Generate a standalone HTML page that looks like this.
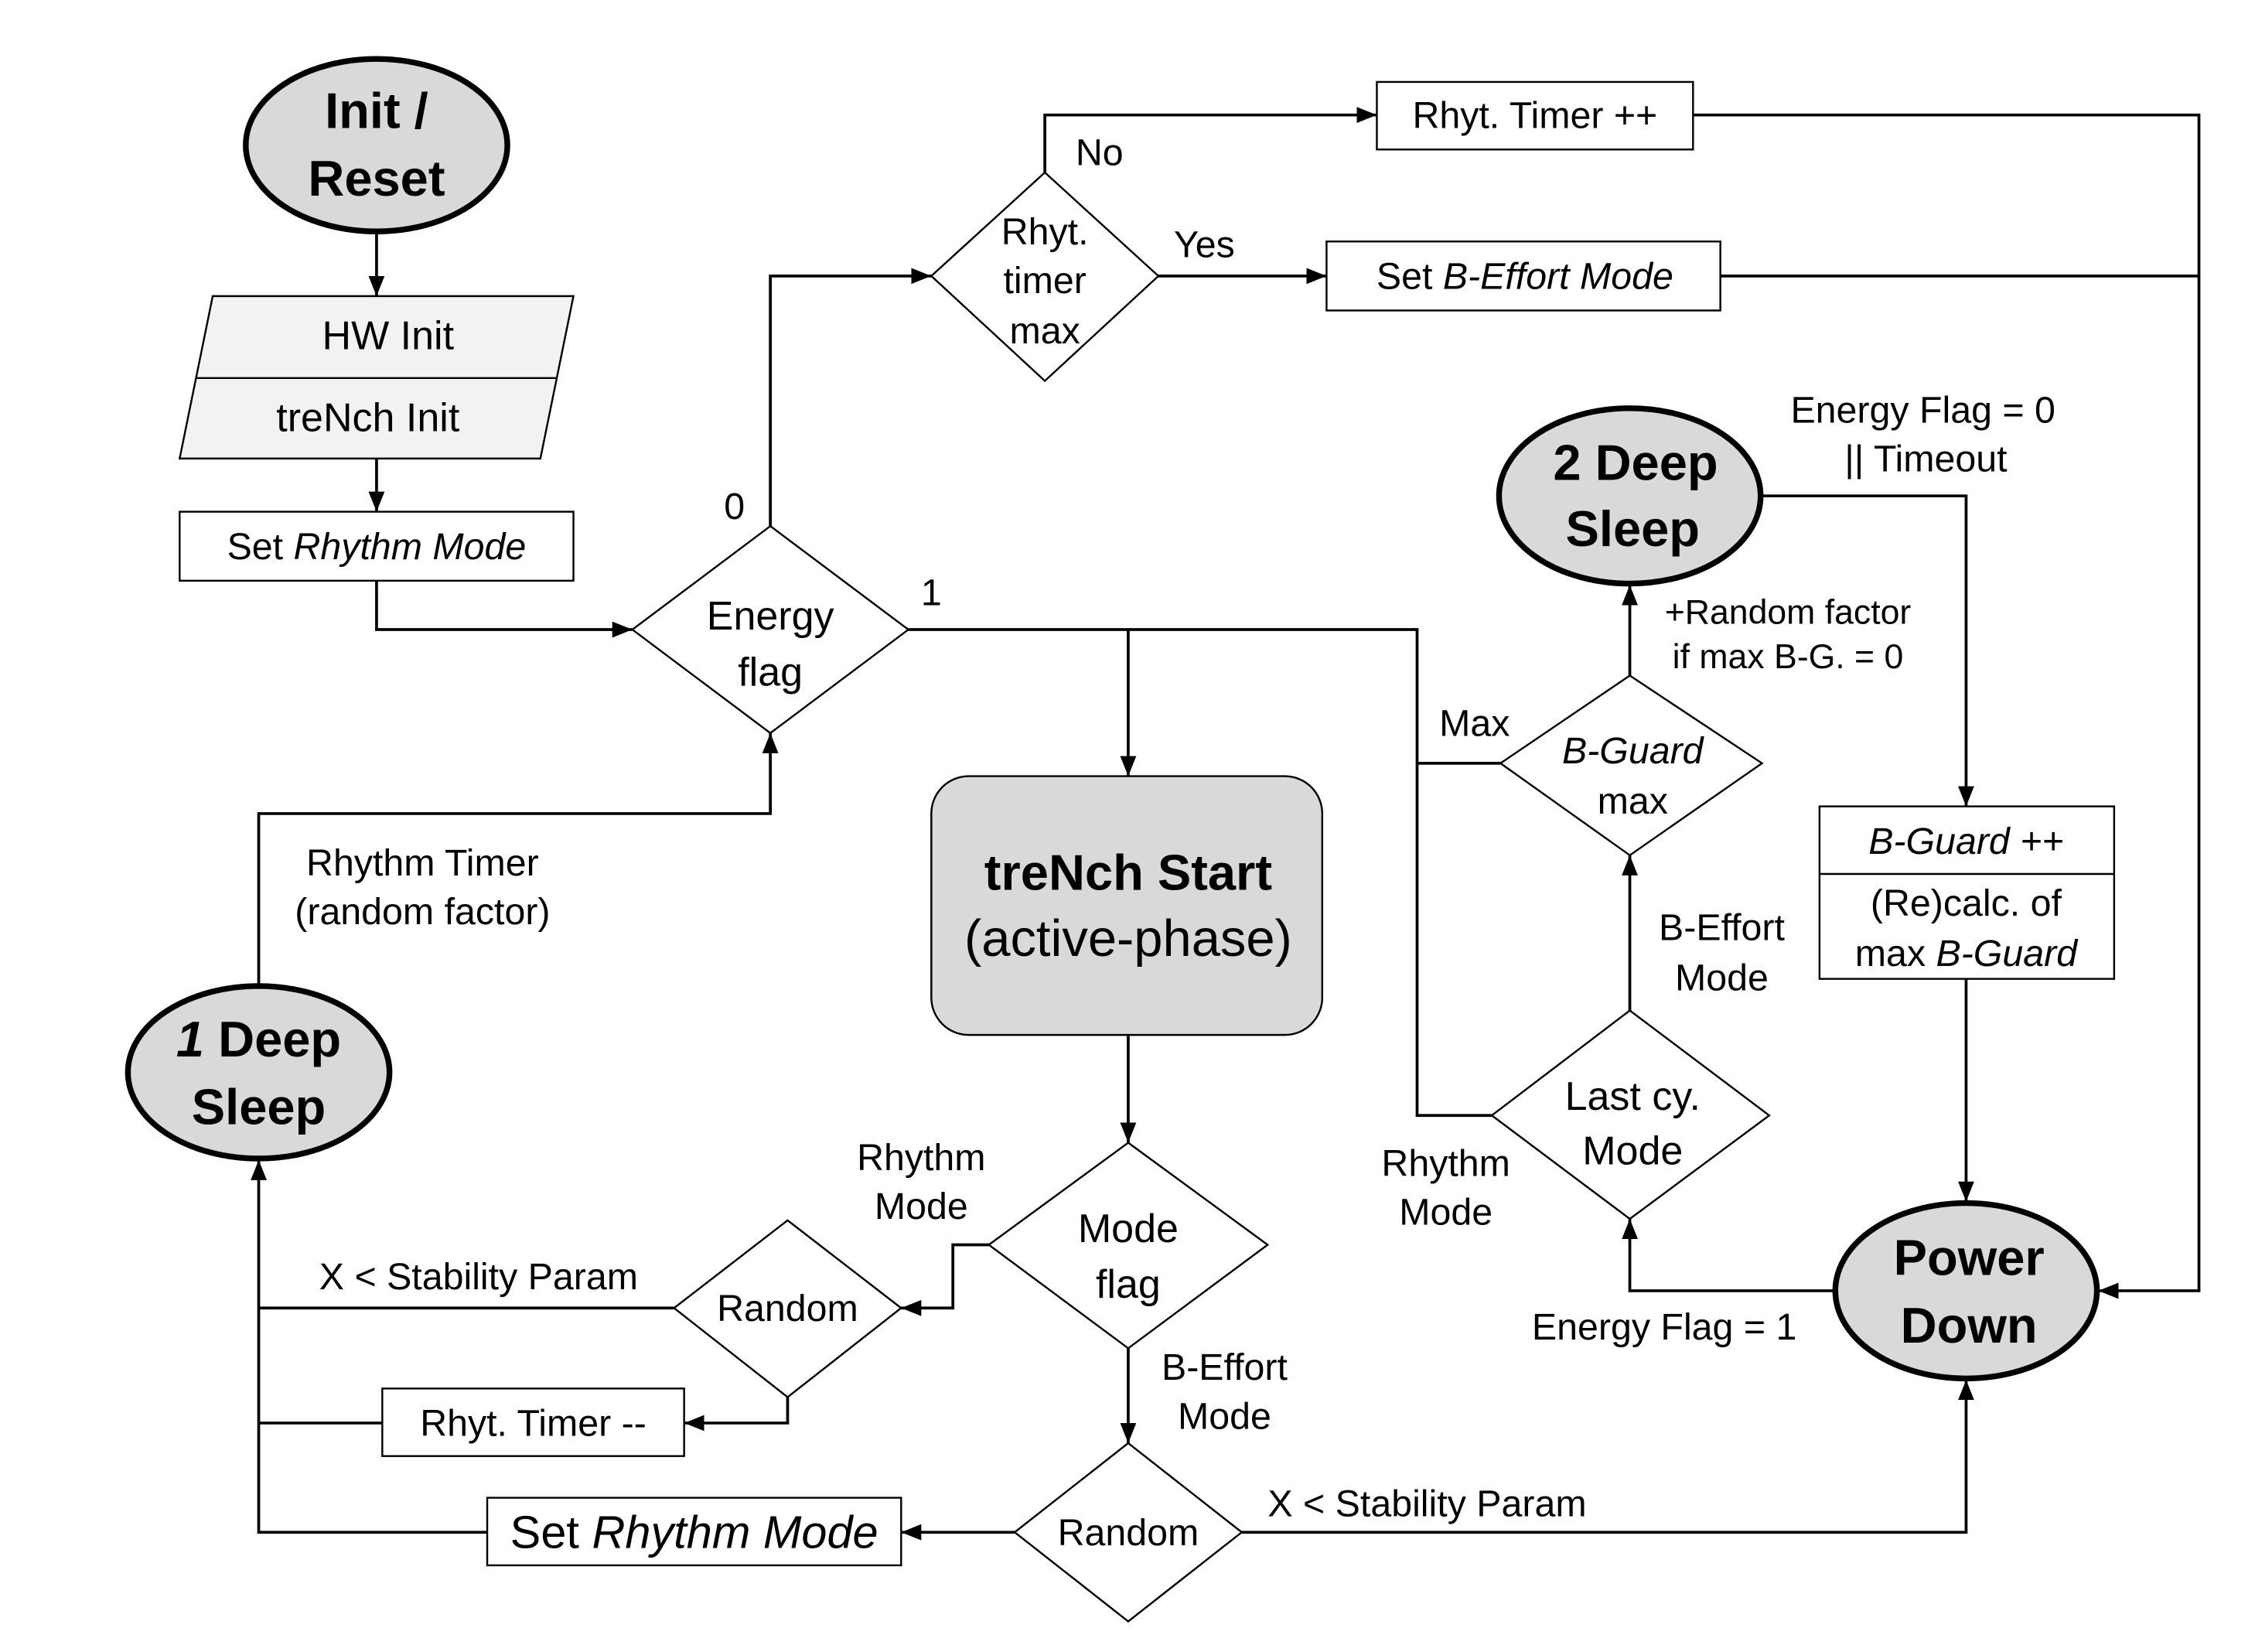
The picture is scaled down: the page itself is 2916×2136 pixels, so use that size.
<!DOCTYPE html>
<html><head><meta charset="utf-8"><style>html,body{margin:0;padding:0;background:#fff}svg{display:block}</style></head><body>
<svg xmlns="http://www.w3.org/2000/svg" width="2916" height="2136" viewBox="0 0 1569 1149.3" preserveAspectRatio="none" font-family="Liberation Sans, Arial, sans-serif">
<defs><marker id="b" viewBox="0 0 10 10" refX="10" refY="5" markerWidth="14" markerHeight="14" markerUnits="userSpaceOnUse" orient="auto"><path d="M0,1L10,5L0,9z" fill="#000"/></marker></defs>
<g fill="none" stroke="#000" stroke-width="2" marker-end="url(#b)">
<path d="M262,163V206"/><path d="M262,319V356"/><path d="M262,404V438H440"/>
<path d="M536,366V192H648"/><path d="M727,120V80H958"/><path d="M806,192H923"/>
<path d="M1178,80H1530V898H1460"/>
<path d="M785,438V540"/><path d="M785,720V795"/>
<path d="M688,866H663V910H627"/><path d="M548,972V990H476"/>
<path d="M785,938V1004"/><path d="M706,1066H627"/>
<path d="M339,1066H180V807"/><path d="M180,685V566H536V510"/>
<path d="M864,1066H1368V960"/><path d="M1276,898H1134V848"/>
<path d="M1134,703V595"/><path d="M1134,470V407"/>
<path d="M1226,345H1368V561"/><path d="M1368,681V836"/>
</g>
<g fill="none" stroke="#000" stroke-width="2">
<path d="M1197,192H1530"/><path d="M632,438H986V776H1038"/><path d="M1044,531H986"/>
<path d="M469,910H180"/><path d="M266,990H180"/>
</g>
<g stroke="#000" stroke-width="1.3">
<rect x="125" y="356" width="274" height="48" fill="#fff"/>
<path d="M148,206H399L376,319H125Z" fill="#f2f2f2"/><path d="M137,263H388"/>
<rect x="958" y="57" width="220" height="47" fill="#fff"/>
<rect x="923" y="168" width="274" height="48" fill="#fff"/>
<rect x="266" y="966" width="210" height="47" fill="#fff"/>
<rect x="339" y="1042" width="288" height="47" fill="#fff"/>
<rect x="1266" y="561" width="205" height="120" fill="#fff"/><path d="M1266,608H1471"/>
<rect x="648" y="540" width="272" height="180" rx="26" fill="#d9d9d9"/>
<path d="M536,366L632,438L536,510L440,438Z" fill="#fff"/>
<path d="M727,120L806,192L727,265L648,192Z" fill="#fff"/>
<path d="M785,795L882,866L785,938L688,866Z" fill="#fff"/>
<path d="M548,849L627,910L548,972L469,910Z" fill="#fff"/>
<path d="M785,1004L864,1066L785,1128L706,1066Z" fill="#fff"/>
<path d="M1134,703L1231,776L1134,848L1038,776Z" fill="#fff"/>
<path d="M1134,470L1226,531L1134,595L1044,531Z" fill="#fff"/>
</g>
<g fill="#d9d9d9" stroke="#000" stroke-width="4">
<ellipse cx="262" cy="101" rx="91" ry="60"/>
<ellipse cx="180" cy="746" rx="91" ry="60"/>
<ellipse cx="1134" cy="345" rx="91" ry="61"/>
<ellipse cx="1368" cy="898" rx="91" ry="61"/>
</g>
<g text-anchor="middle" font-weight="bold" font-size="35">
<text x="262" y="89">Init /</text><text x="262" y="136">Reset</text>
<text x="180" y="735"><tspan font-style="italic">1</tspan> Deep</text><text x="180" y="782">Sleep</text>
<text x="1138" y="334">2 Deep</text><text x="1136" y="380">Sleep</text>
<text x="1370" y="887">Power</text><text x="1370" y="934">Down</text>
<text x="785" y="619">treNch Start</text>
</g>
<g text-anchor="middle" font-size="28">
<text x="270" y="243">HW Init</text><text x="256" y="300">treNch Init</text>
<text x="785" y="665" font-size="36">(active-phase)</text>
<text x="536" y="438">Energy</text><text x="536" y="477">flag</text>
<text x="785" y="864">Mode</text><text x="785" y="903">flag</text>
<text x="1136" y="772">Last cy.</text><text x="1136" y="810">Mode</text>
<text x="483" y="1077" font-size="32">Set <tspan font-style="italic">Rhythm Mode</tspan></text>
</g>
<g text-anchor="middle" font-size="26">
<text x="262" y="389">Set <tspan font-style="italic">Rhythm Mode</tspan></text>
<text x="1068" y="89">Rhyt. Timer ++</text>
<text x="1061" y="201">Set <tspan font-style="italic">B-Effort Mode</tspan></text>
<text x="371" y="999">Rhyt. Timer --</text>
<text x="1368" y="594" font-style="italic">B-Guard ++</text>
<text x="1368" y="637">(Re)calc. of</text><text x="1368" y="672">max <tspan font-style="italic">B-Guard</tspan></text>
<text x="727" y="170">Rhyt.</text><text x="727" y="204">timer</text><text x="727" y="239">max</text>
<text x="548" y="919">Random</text><text x="785" y="1075">Random</text>
<text x="1136" y="531" font-style="italic">B-Guard</text><text x="1136" y="566">max</text>
<text x="511" y="361">0</text><text x="648" y="421">1</text>
<text x="765" y="115">No</text><text x="838" y="179">Yes</text>
<text x="1338" y="294">Energy Flag = 0</text><text x="1340" y="328">|| Timeout</text>
<text x="1244" y="434" font-size="24">+Random factor</text><text x="1244" y="465" font-size="24">if max B-G. = 0</text>
<text x="1026" y="512">Max</text>
<text x="1198" y="654">B-Effort</text><text x="1198" y="689">Mode</text>
<text x="1006" y="818">Rhythm</text><text x="1006" y="852">Mode</text>
<text x="1158" y="932">Energy Flag = 1</text>
<text x="641" y="814">Rhythm</text><text x="641" y="848">Mode</text>
<text x="333" y="897">X &lt; Stability Param</text>
<text x="852" y="960">B-Effort</text><text x="852" y="994">Mode</text>
<text x="993" y="1055">X &lt; Stability Param</text>
<text x="294" y="609">Rhythm Timer</text><text x="294" y="643">(random factor)</text>
</g>
</svg>
</body></html>
